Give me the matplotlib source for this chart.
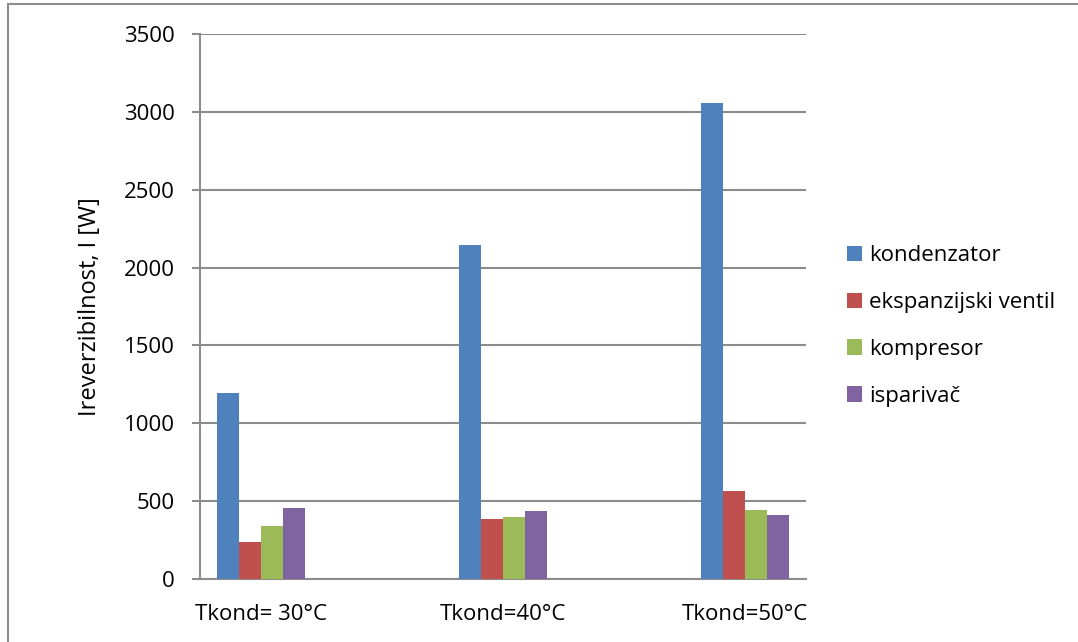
import matplotlib.pyplot as plt
import matplotlib.patches as patches
import numpy as np

plt.rcParams['font.family'] = ['Open Sans', 'DejaVu Sans']

categories = ['Tkond= 30°C', 'Tkond=40°C', 'Tkond=50°C']
series = ['kondenzator', 'ekspanzijski ventil', 'kompresor', 'isparivač']
kondenzator = [1195, 2145, 3058]
ekspanzijski_ventil = [238, 385, 568]
kompresor = [342, 398, 445]
isparivac = [455, 434, 412]
colors = ['#4F81BD', '#C0504D', '#9BBB59', '#8064A2']

values = [kondenzator, ekspanzijski_ventil, kompresor, isparivac]

fig = plt.figure(figsize=(10.78, 6.42), dpi=100)
ax = fig.add_axes([200/1078, 1-579/642, 606/1078, 545/642])

# outer chart border (only left/top visible)
fig.patches.append(patches.Rectangle((8/1078, -0.05), 1.2, 1-4/642+0.05,
                                     transform=fig.transFigure, fill=False,
                                     edgecolor='#8c8c8c', linewidth=1.5))

x = np.arange(len(categories))
w = 0.091
for i, (name, vals) in enumerate(zip(series, values)):
    ax.bar(x + (i - 1.5) * w, vals, w, color=colors[i], label=name, zorder=3)

ax.set_xlim(-0.252, 2.252)
ax.set_ylim(0, 3500)
ax.set_yticks(np.arange(0, 3501, 500))
ax.set_xticks(x)
ax.set_xticklabels(categories)
ax.yaxis.grid(True, color='#8c8c8c', linewidth=1.5, zorder=0)
for s in ['top', 'right']:
    ax.spines[s].set_visible(False)
ax.spines['left'].set_color('#8c8c8c')
ax.spines['left'].set_linewidth(1.5)
ax.spines['bottom'].set_color('#8c8c8c')
ax.spines['bottom'].set_linewidth(1.5)
ax.tick_params(axis='y', length=6, width=1.5, color='#8c8c8c', labelsize=16, pad=12)
ax.tick_params(axis='x', length=0, labelsize=16, pad=18)
ax.set_ylabel('Ireverzibilnost, I [W]', fontsize=17)
ax.yaxis.set_label_coords(-0.162, 0.5)

ax.legend(loc='center left', bbox_to_anchor=(836/1078, 1-326/642),
          bbox_transform=fig.transFigure, frameon=False, borderpad=0,
          fontsize=16, handlelength=0.68, handleheight=0.68, labelspacing=1.16,
          handletextpad=0.32)

fig.savefig('out.png', dpi=100)
